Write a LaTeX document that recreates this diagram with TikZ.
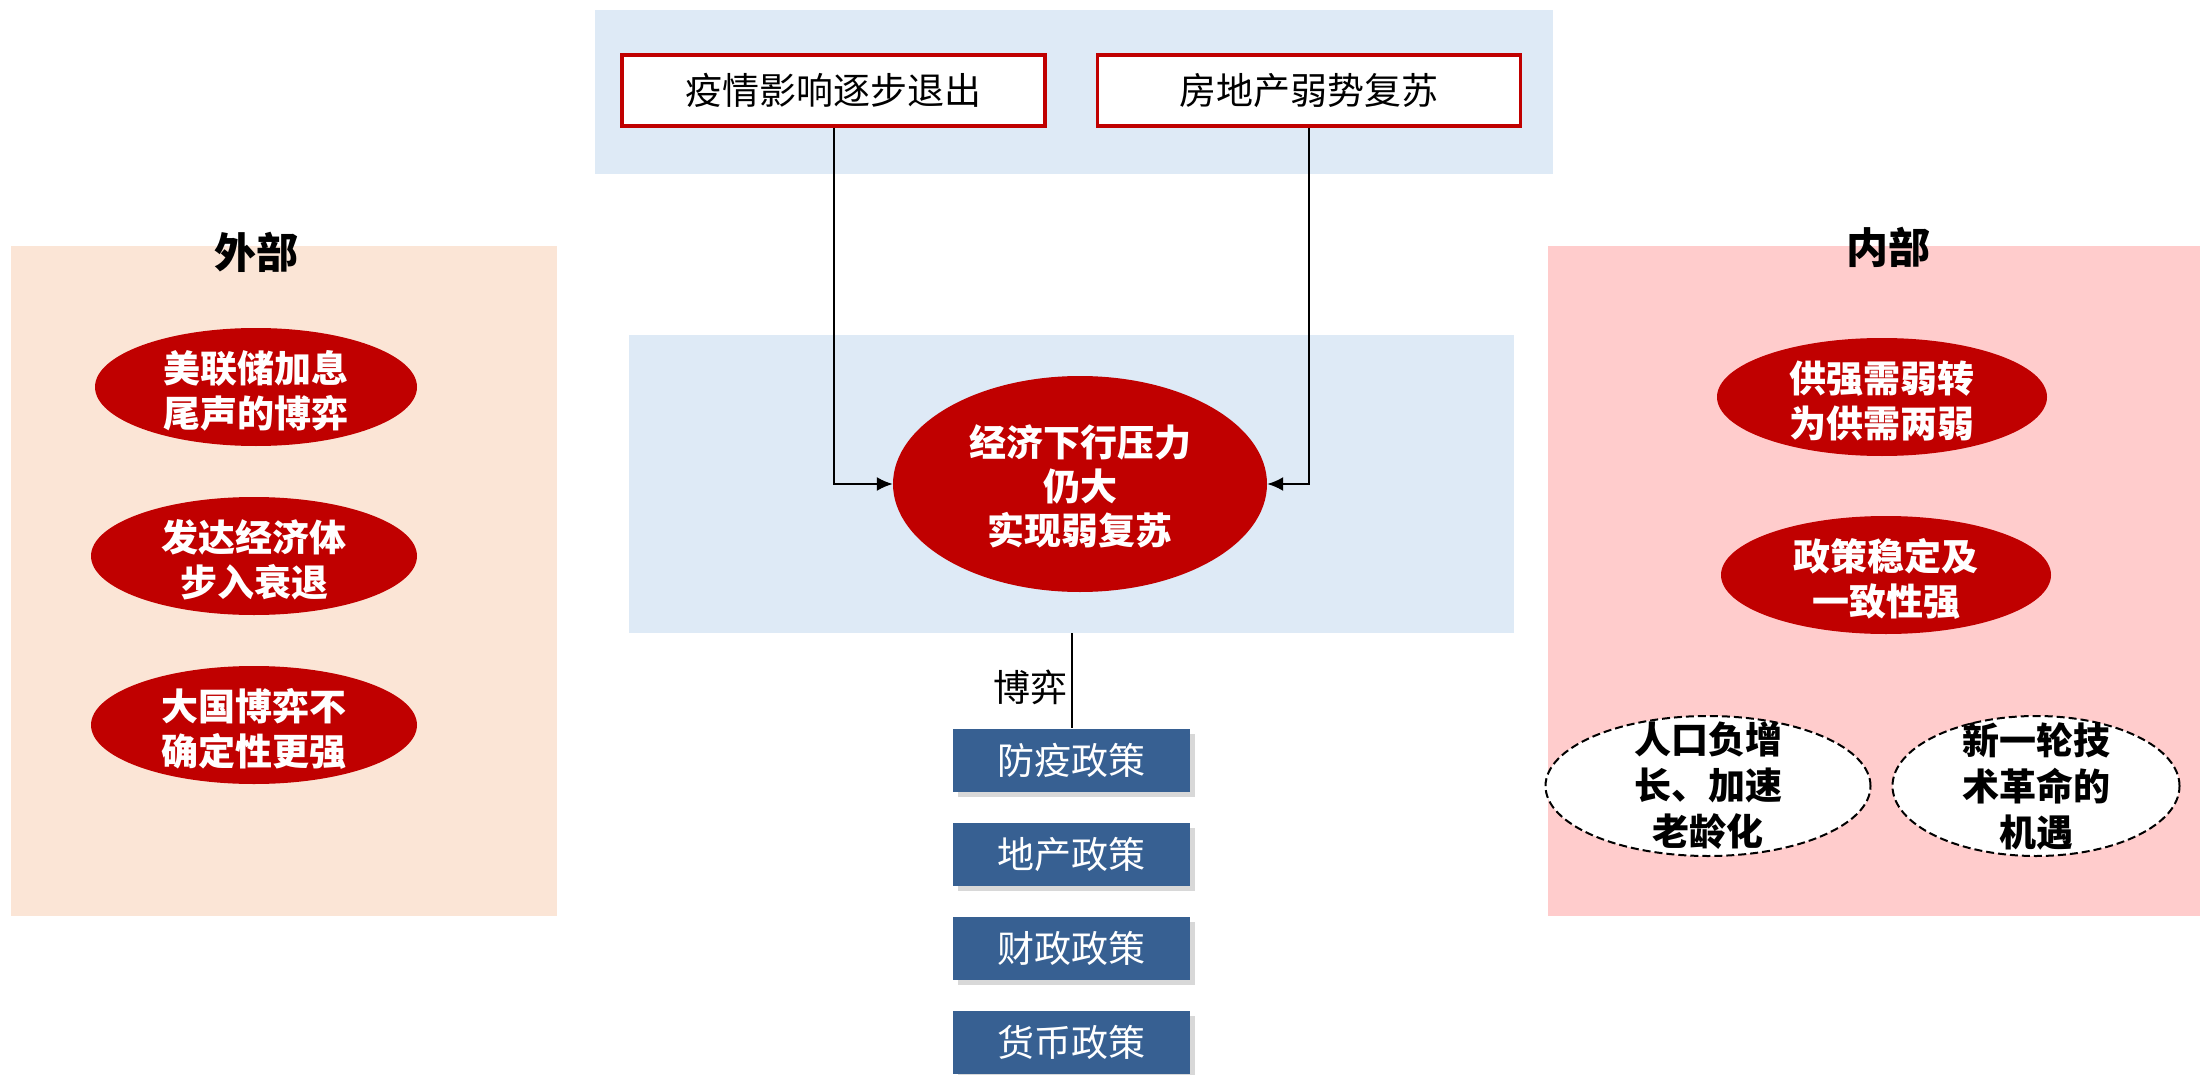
\documentclass[tikz,border=0pt]{standalone}
\usepackage{fontspec}
\setmainfont{Noto Sans CJK SC}
\usepackage{xcolor}
\usepackage{tikz}
\usetikzlibrary{shapes.geometric,arrows.meta,shadows}
\definecolor{darkred}{RGB}{192,0,0}
\definecolor{lightblue}{RGB}{222,234,246}
\definecolor{peach}{RGB}{251,229,214}
\definecolor{pink}{RGB}{255,204,204}
\definecolor{polblue}{RGB}{55,96,146}
\newcommand{\bigtxt}{\fontsize{37}{45}\selectfont}
\tikzset{bg/.style={rectangle,inner sep=0pt,outer sep=0pt},
  topbox/.style={rectangle,draw=darkred,line width=3.5pt,fill=white,minimum width=423pt,minimum height=71pt,font=\bigtxt},
  ell/.style={ellipse,fill=darkred,inner sep=0pt},
  dell/.style={ellipse,draw,dash pattern=on 8pt off 4pt,line width=2pt,fill=white,inner sep=0pt},
  etext/.style={align=center,font=\bigtxt\bfseries,text=white},
  dtext/.style={align=center,font=\fontsize{37}{46}\selectfont\bfseries},
  pol/.style={rectangle,fill=polblue,text=white,minimum width=237pt,minimum height=63pt,font=\bigtxt,
    drop shadow={shadow xshift=5pt,shadow yshift=-5pt,fill=black!30}},
  ttl/.style={font=\fontsize{42}{50}\selectfont\bfseries}}

\begin{document}
\begin{tikzpicture}[x=1pt,y=-1pt,>={Latex[length=16pt,width=14pt]}]
        \useasboundingbox (0,0) rectangle (2200,1075);

        % backgrounds
        \node[bg,fill=lightblue,minimum width=958pt,minimum height=164pt] (topbg) at (1074,92) {};
        \node[bg,fill=lightblue,minimum width=885pt,minimum height=298pt] (midbg) at (1071.5,484) {};
        \node[bg,fill=peach,minimum width=546pt,minimum height=670pt] (left) at (284,581) {};
        \node[bg,fill=pink,minimum width=652pt,minimum height=670pt] (right) at (1874,581) {};
        \node[ttl] (lt) at (256,252) {外部};
        \node[ttl] (rt) at (1888,247) {内部};

        % top
        \node[topbox] (a) at (833.5,90.5) {疫情影响逐步退出};
        \node[topbox] (b) at (1309,90.5) {房地产弱势复苏};

        % centre
        \node[ell,minimum width=374pt,minimum height=216pt] (c) at (1080,484) {};
        \node[etext,font=\fontsize{37}{44}\selectfont\bfseries] (ct) at (1080,486) {经济下行压力\\仍大\\实现弱复苏};

        % policies
        \node[pol] (p1) at (1071.5,760) {防疫政策};
        \node[pol] (p2) at (1071.5,854) {地产政策};
        \node[pol] (p3) at (1071.5,948) {财政政策};
        \node[pol] (p4) at (1071.5,1042) {货币政策};

        % left
        \node[ell,minimum width=322pt,minimum height=118pt] (l1) at (256,387) {};
        \node[ell,minimum width=326pt,minimum height=118pt] (l2) at (254,556) {};
        \node[ell,minimum width=326pt,minimum height=118pt] (l3) at (254,725) {};
        \node[etext] (l1t) at (256,391) {美联储加息\\尾声的博弈};
        \node[etext] (l2t) at (254,560) {发达经济体\\步入衰退};
        \node[etext] (l3t) at (254,729) {大国博弈不\\确定性更强};

        % right
        \node[ell,minimum width=330pt,minimum height=118pt] (r1) at (1882,397) {};
        \node[ell,minimum width=330pt,minimum height=118pt] (r2) at (1886,575) {};
        \node[etext] (r1t) at (1882,401) {供强需弱转\\为供需两弱};
        \node[etext] (r2t) at (1886,579) {政策稳定及\\一致性强};
        \node[dell,minimum width=325pt,minimum height=140pt] (r3) at (1708,786) {};
        \node[dell,minimum width=287pt,minimum height=140pt] (r4) at (2036,786) {};
        \node[dtext] (r3t) at (1708,786) {人口负增\\长、加速\\老龄化};
        \node[dtext] (r4t) at (2036,786) {新一轮技\\术革命的\\机遇};

        \draw [line width=2pt,->] (a) |- (c);
        \draw [line width=2pt,->] (b) |- (c);
        \draw [line width=2pt] (midbg) to node[left,pos=0.57,font=\bigtxt] (g) {博弈} (p1);
    \end{tikzpicture}
\end{document}
